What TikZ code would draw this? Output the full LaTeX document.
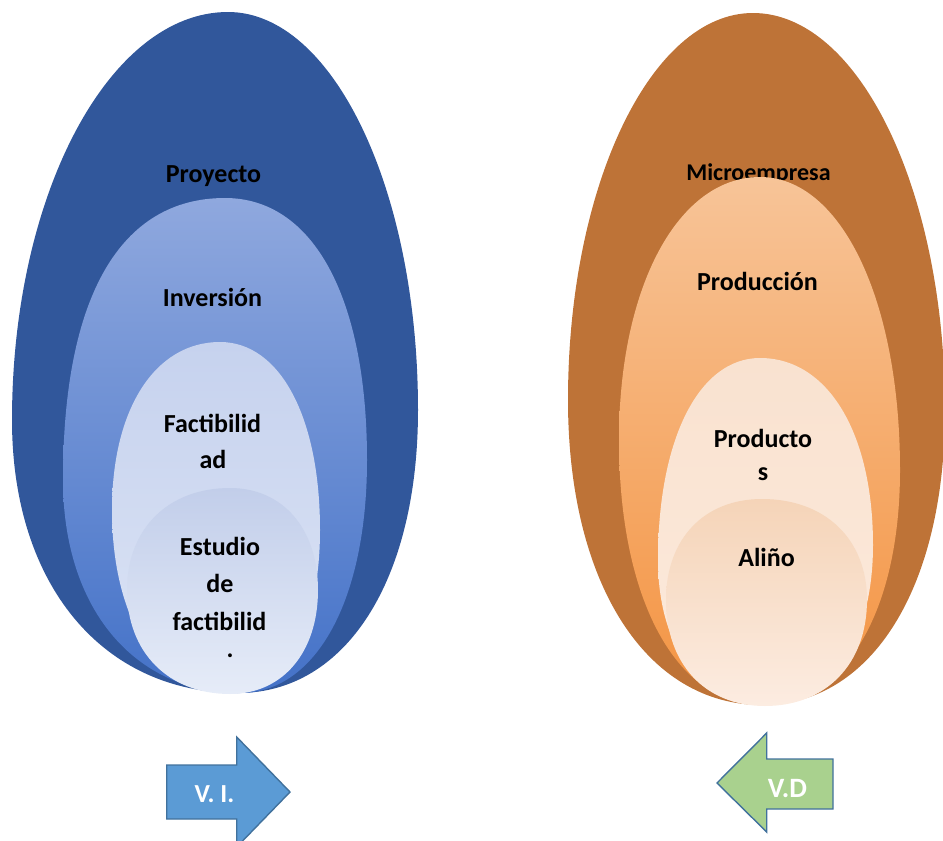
\documentclass[tikz,border=0pt]{standalone}
\usepackage{fontspec}
\setmainfont{Carlito}
\definecolor{bOut}{RGB}{49,87,155}
\definecolor{bMidTop}{RGB}{143,168,222}
\definecolor{bMidBot}{RGB}{68,114,200}
\definecolor{bFacTop}{RGB}{198,210,238}
\definecolor{bFacBot}{RGB}{220,228,245}
\definecolor{bEstTop}{RGB}{194,206,234}
\definecolor{bEstBot}{RGB}{230,236,248}
\definecolor{oOut}{RGB}{190,115,55}
\definecolor{oMidTop}{RGB}{247,196,152}
\definecolor{oMidBot}{RGB}{244,148,66}
\definecolor{oProTop}{RGB}{249,226,208}
\definecolor{oProBot}{RGB}{252,234,220}
\definecolor{oAliTop}{RGB}{245,212,184}
\definecolor{oAliBot}{RGB}{252,236,225}
\definecolor{viFill}{RGB}{91,155,213}
\definecolor{vdFill}{RGB}{169,209,142}
\definecolor{arrBorder}{RGB}{65,113,156}
\begin{document}
\begin{tikzpicture}[x=1pt,y=-1pt,
  lbl/.style={font=\bfseries\fontsize{26}{30}\selectfont, inner sep=0pt, anchor=base, text=black},
  albl/.style={font=\bfseries\fontsize{26}{30}\selectfont, inner sep=0pt, anchor=base, text=white},
  arrowshape/.style={draw=arrBorder, line width=1.4pt, line join=miter}]
\useasboundingbox (0,0) rectangle (943,841);
\clip (0,0) rectangle (943,841);

% ---------- blue group ----------
\fill[bOut] (228,12) .. controls (333,12) and (418,190) .. (418,410)
  .. controls (418,580) and (346,693) .. (238,693)
  .. controls (102,693) and (12,584) .. (12,420)
  .. controls (12,195) and (109,12) .. (228,12) -- cycle;
\node[lbl] (proyecto) at (213.5,182) {Proyecto};

\path[top color=bMidTop, bottom color=bMidBot] (225,198) .. controls (313,198) and (367,297) .. (367,460)
  .. controls (367,600) and (316,693) .. (240,693)
  .. controls (134,693) and (63,608) .. (63,480)
  .. controls (63,297) and (120,198) .. (225,198) -- cycle;
\node[lbl] (inversion) at (212.5,306) {Inversión};

\path[top color=bFacTop, bottom color=bFacBot] (220,342) .. controls (280,342) and (320,417) .. (320,530)
  .. controls (320,628) and (284,693) .. (230,693)
  .. controls (159,693) and (112,620) .. (112,510)
  .. controls (112,409) and (155,342) .. (220,342) -- cycle;
\node[lbl] (fact1) at (212.5,432) {Factibilid};
\node[lbl] (fact2) at (213,468) {ad};

\path[top color=bEstTop, bottom color=bEstBot] (230,488) .. controls (283,488) and (318,529) .. (318,590)
  .. controls (318,652) and (283,694) .. (230,694)
  .. controls (168,694) and (127,652) .. (127,590)
  .. controls (127,529) and (168,488) .. (230,488) -- cycle;
\node[lbl] (est1) at (220,555) {Estudio};
\node[lbl] (est2) at (220,592) {de};
\node[lbl] (est3) at (219.5,630) {factibilid};
\node[lbl] (est4) at (230,657) {.};

% ---------- orange group ----------
\fill[oOut] (753,13) .. controls (859,13) and (945,191) .. (945,410)
  .. controls (945,587) and (872,705) .. (762,705)
  .. controls (646,705) and (568,583) .. (568,400)
  .. controls (568,186) and (651,13) .. (753,13) -- cycle;
\node[lbl, font=\bfseries\fontsize{24}{28}\selectfont] (micro) at (758.5,180) {Microempresa};

\path[top color=oMidTop, bottom color=oMidBot] (760,177) .. controls (841,177) and (900,300) .. (900,470)
  .. controls (900,611) and (845,705) .. (762,705)
  .. controls (676,705) and (619,599) .. (619,440)
  .. controls (619,287) and (678,177) .. (760,177) -- cycle;
\node[lbl] (produccion) at (757.5,290) {Producción};

\path[top color=oProTop, bottom color=oProBot] (760,358) .. controls (828,358) and (873,433) .. (873,545)
  .. controls (873,641) and (830,705) .. (765,705)
  .. controls (701,705) and (658,647) .. (658,560)
  .. controls (658,439) and (699,358) .. (760,358) -- cycle;
\node[lbl] (prod1) at (763,447) {Producto};
\node[lbl] (prod2) at (763,480) {s};

\path[top color=oAliTop, bottom color=oAliBot] (762,499) .. controls (825,499) and (867,539) .. (867,600)
  .. controls (867,664) and (826,706) .. (765,706)
  .. controls (705,706) and (666,664) .. (666,600)
  .. controls (666,539) and (704,499) .. (762,499) -- cycle;
\node[lbl] (alino) at (766.5,566) {Aliño};

% ---------- arrows ----------
\draw[arrowshape, fill=viFill] (166.7,765) -- (236.7,765) -- (236.7,737) -- (290,792) -- (236.7,847) -- (236.7,819) -- (166.7,819) -- cycle;
\node[albl] (vi) at (214.5,802) {V. I.};

\draw[arrowshape, fill=vdFill] (717,783) -- (766.7,733) -- (766.7,759) -- (833,759) -- (833,809) -- (766.7,809) -- (766.7,832) -- cycle;
\node[albl, font=\bfseries\fontsize{28}{32}\selectfont] (vd) at (787.5,797) {V.D};
\end{tikzpicture}
\end{document}
